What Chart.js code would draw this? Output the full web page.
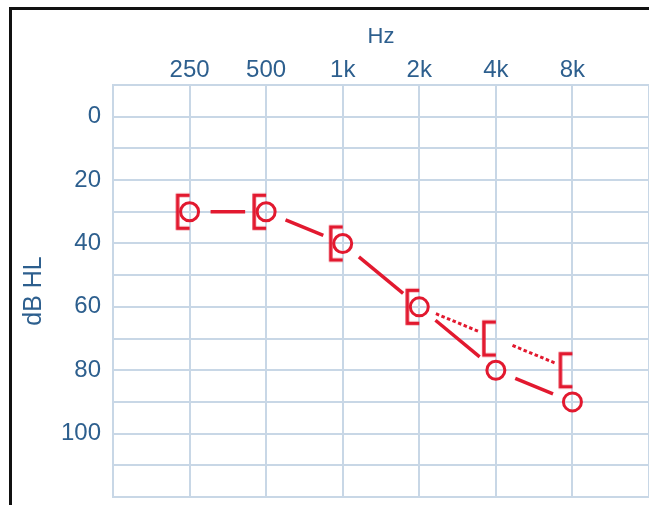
<!DOCTYPE html>
<html>
<head>
<meta charset="utf-8">
<script src="https://cdn.jsdelivr.net/npm/chart.js@4"></script>
<style>
  html, body { margin: 0; padding: 0; background: #fff; overflow: hidden; }
  #wrap { position: relative; width: 649px; height: 505px; overflow: hidden; }
  canvas { display: block; }
  .bar { position: absolute; background: #111; pointer-events: none; }
</style>
</head>
<body>
<div id="wrap">
  <canvas id="audiogram" width="649" height="505"></canvas>
  <div class="bar" style="left:9px; top:7px; width:640px; height:3px;"></div>
  <div class="bar" style="left:9px; top:7px; width:3px; height:498px;"></div>
</div>
<script>
// frequencies (Hz) and their labels
const freqs = [250, 500, 1000, 2000, 4000, 8000];
const freqLabels = ["250", "500", "1k", "2k", "4k", "8k"];
const gridFreqs = [125, 250, 500, 1000, 2000, 4000, 8000, 16000];

// hearing levels (dB HL)
const airRight = [30, 30, 40, 60, 80, 90];          // O
const boneMasked = [30, 30, 40, 60, 70, 80];        // [
const boneLine = [null, null, null, 60, 70, 80];    // dotted part
const dbTicks = [0, 20, 40, 60, 80, 100];

const RED = "#e2192f";
const BLUE = "#2d5f8e";
const GRID = "#c8d7e6";

// "[" marker drawn on a small canvas
function bracketMarker() {
  const c = document.createElement("canvas");
  c.width = 40; c.height = 40;
  const g = c.getContext("2d");
  g.strokeStyle = RED;
  g.lineWidth = 3.5;
  g.beginPath();
  g.moveTo(20, 3.5);
  g.lineTo(8, 3.5);
  g.lineTo(8, 36.5);
  g.lineTo(20, 36.5);
  g.stroke();
  return c;
}

function segLen(c) {
  return Math.hypot(c.p1.x - c.p0.x, c.p1.y - c.p0.y);
}

// solid line that stops short of the markers
function solidGap(gap) {
  return {
    borderDash: c => { const L = segLen(c); return [Math.max(L - 2 * gap, 0), 2 * gap]; },
    borderDashOffset: () => -gap
  };
}

// dotted line that stops short of the markers
function dottedGap(gap, dot, space) {
  return {
    borderDash: c => {
      const L = segLen(c);
      const n = Math.max(Math.floor((L - 2 * gap + space) / (dot + space)), 1);
      const pat = [];
      for (let i = 0; i < n; i++) pat.push(dot, space);
      pat[pat.length - 1] = L - n * dot - (n - 1) * space;
      return pat;
    },
    borderDashOffset: () => -gap
  };
}

const toPts = arr => freqs.map((f, i) => ({ x: f, y: arr[i] }));
const noPad = s => { s.paddingLeft = 0; s.paddingRight = 0; s.paddingTop = 0; s.paddingBottom = 0; };
const FONT = "Liberation Sans, Arial, sans-serif";

new Chart(document.getElementById("audiogram"), {
  type: "line",
  data: {
    datasets: [
      {
        label: "AC",
        data: toPts(airRight),
        borderColor: RED,
        borderWidth: 3.5,
        pointStyle: "circle",
        pointRadius: 9,
        pointBorderWidth: 3,
        pointBorderColor: RED,
        pointBackgroundColor: "rgba(255,255,255,0)",
        segment: solidGap(21)
      },
      {
        label: "BC masked",
        data: toPts(boneMasked),
        showLine: false,
        pointStyle: bracketMarker(),
        pointRadius: 20
      },
      {
        label: "BC line",
        data: toPts(boneLine),
        borderColor: RED,
        borderWidth: 3,
        pointRadius: 0,
        spanGaps: false,
        segment: dottedGap(18, 3.5, 2.5)
      }
    ]
  },
  options: {
    responsive: false,
    animation: false,
    events: [],
    // markers must not shrink the grid, it runs to the right edge
    layout: { autoPadding: false, padding: { left: 0, top: 0, right: 0, bottom: 8 } },
    plugins: { legend: { display: false }, tooltip: { enabled: false } },
    scales: {
      x: {
        type: "logarithmic",
        position: "top",
        min: 125,
        max: 16000,
        afterBuildTicks: s => { s.ticks = gridFreqs.map(v => ({ value: v })); },
        afterFit: s => { s.height = 85; noPad(s); },
        grid: { color: GRID, lineWidth: 2, drawTicks: false },
        border: { color: GRID, width: 2 },
        ticks: {
          color: BLUE,
          padding: 0,
          maxRotation: 0,
          autoSkip: false,
          font: { family: FONT, size: 24 },
          callback: v => { const i = freqs.indexOf(v); return i >= 0 ? freqLabels[i] : ""; }
        },
        title: {
          display: true,
          text: "Hz",
          color: BLUE,
          padding: { top: 24, bottom: 0 },
          font: { family: FONT, size: 22 }
        }
      },
      y: {
        type: "linear",
        reverse: true,
        min: -10,
        max: 120,
        afterBuildTicks: s => {
          const t = [];
          for (let v = -10; v <= 120; v += 10) t.push({ value: v });
          s.ticks = t;
        },
        afterFit: s => { s.width = 113; noPad(s); },
        grid: { color: GRID, lineWidth: 2, drawTicks: false },
        border: { color: GRID, width: 2 },
        ticks: {
          color: BLUE,
          padding: 12,
          autoSkip: false,
          font: { family: FONT, size: 24 },
          callback: v => dbTicks.includes(v) ? String(v) : ""
        },
        title: {
          display: true,
          text: "dB HL",
          color: BLUE,
          padding: { top: 19, bottom: 0 },
          font: { family: FONT, size: 25 }
        }
      }
    }
  }
});
</script>
</body>
</html>
